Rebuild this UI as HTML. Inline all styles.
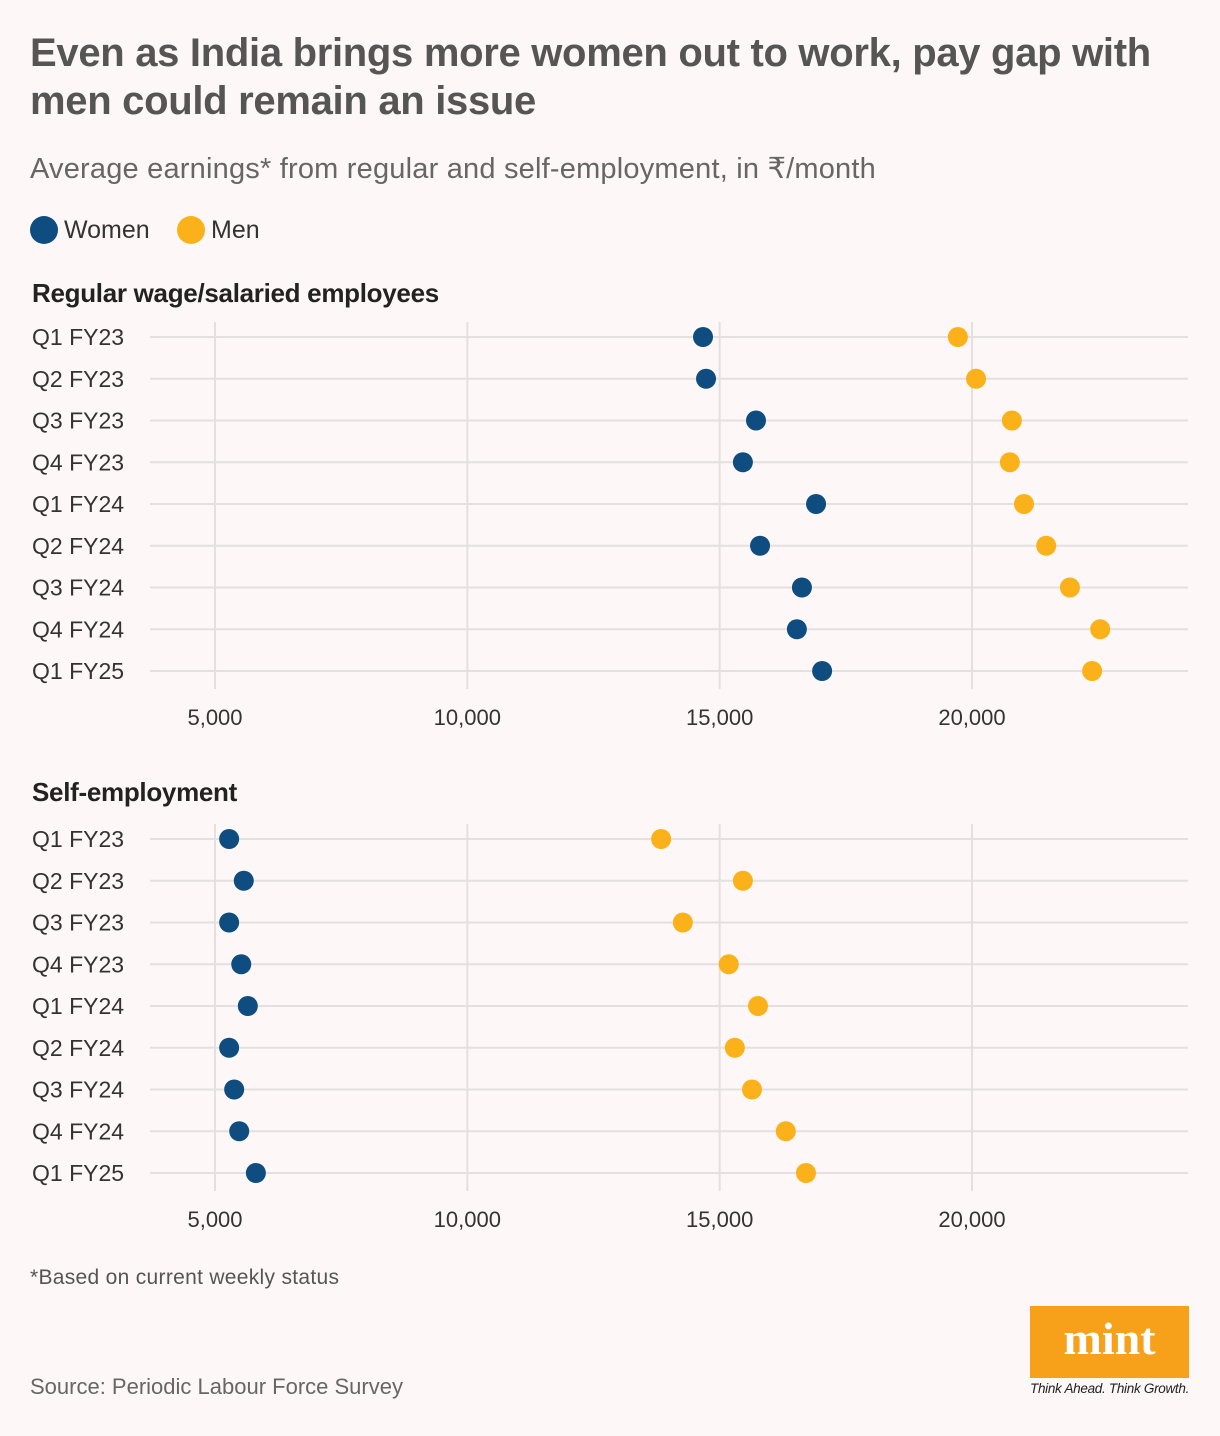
<!DOCTYPE html>
<html><head><meta charset="utf-8"><style>
body{margin:0;background:#fdf8f7;font-family:"Liberation Sans",sans-serif;}
#wrap{position:relative;width:1220px;height:1436px;overflow:hidden;background:#fdf8f7;}
.t{position:absolute;white-space:nowrap;}
</style></head><body>
<div id="wrap">
<div class="t" style="left:30px;top:29px;font-size:40px;font-weight:bold;color:#555;line-height:48px;letter-spacing:-0.3px">Even as India brings more women out to work, pay gap with<br>men could remain an issue</div>
<div class="t" style="left:30px;top:151px;font-size:29px;color:#666;letter-spacing:0.2px">Average earnings* from regular and self-employment, in ₹/month</div>
<div class="t" style="left:30px;top:216px;font-size:25px;color:#333"><span style="display:inline-block;width:28px;height:28px;border-radius:50%;background:#0f4c7f;vertical-align:-6px;margin-right:6px"></span>Women</div>
<div class="t" style="left:177px;top:216px;font-size:25px;color:#333"><span style="display:inline-block;width:28px;height:28px;border-radius:50%;background:#fbb119;vertical-align:-6px;margin-right:6px"></span>Men</div>
<div class="t" style="left:32px;top:278px;font-size:26px;font-weight:bold;color:#222;letter-spacing:-0.3px">Regular wage/salaried employees</div>
<div class="t" style="left:32px;top:777px;font-size:26px;font-weight:bold;color:#222;letter-spacing:-0.3px">Self-employment</div>
<svg id="chart" width="1220" height="1436" style="position:absolute;left:0;top:0"></svg>
<div class="t" style="left:30px;top:1266px;font-size:21px;color:#555;letter-spacing:0.3px">*Based on current weekly status</div>
<div class="t" style="left:30px;top:1374px;font-size:22px;color:#666">Source: Periodic Labour Force Survey</div>
<div style="position:absolute;left:1030px;top:1306px;width:159px;height:72px;background:#f7a11a;color:#fff;font-family:'Liberation Serif',serif;font-weight:bold;font-size:46px;text-align:center;line-height:66px">mint</div>
<div class="t" style="left:1030px;top:1381px;font-size:13.5px;font-style:italic;color:#222;letter-spacing:-0.3px">Think Ahead. Think Growth.</div>
</div>
<script>
const categories=["Q1 FY23","Q2 FY23","Q3 FY23","Q4 FY23","Q1 FY24","Q2 FY24","Q3 FY24","Q4 FY24","Q1 FY25"];
const regWomen=[14670,14730,15720,15460,16910,15800,16630,16530,17030];
const regMen=[19720,20080,20790,20750,21030,21470,21940,22540,22380];
const selfWomen=[5280,5570,5280,5520,5650,5280,5380,5480,5810];
const selfMen=[13840,15460,14270,15180,15760,15300,15640,16310,16710];
const ticks=[5000,10000,15000,20000];
const tickLabels=["5,000","10,000","15,000","20,000"];
const svg=document.getElementById('chart');
const NS='http://www.w3.org/2000/svg';
function x(v){return 215+(v-5000)*(972-215)/15000;}
function mk(t,a){const e=document.createElementNS(NS,t);for(const k in a)e.setAttribute(k,a[k]);svg.appendChild(e);return e;}
function panel(top,women,men,pname){
  const y=i=>top+i*41.75;
  ticks.forEach((t,i)=>{
    const l=mk('line',{x1:x(t),x2:x(t),y1:top-15,y2:y(8)+18,stroke:'#e3e0df','stroke-width':2});
    
    
    const tx=mk('text',{x:x(t),y:y(8)+54,'text-anchor':'middle','font-size':22,fill:'#333','font-family':'Liberation Sans, sans-serif'});
    tx.textContent=tickLabels[i];
    
    
  });
  categories.forEach((c,i)=>{
    const l=mk('line',{x1:150,x2:1188,y1:y(i),y2:y(i),stroke:'#e3e0df','stroke-width':2});
    
    
    const tx=mk('text',{x:32,y:y(i)+8,'font-size':23,fill:'#333','font-family':'Liberation Sans, sans-serif'});
    tx.textContent=c;
    
    
  });
  categories.forEach((c,i)=>{
    const a=mk('circle',{cx:x(women[i]),cy:y(i),r:10,fill:'#0f4c7f'});
    
    
    const b=mk('circle',{cx:x(men[i]),cy:y(i),r:10,fill:'#fbb119'});
    
    
  });
}
panel(337,regWomen,regMen,'regular');
panel(839,selfWomen,selfMen,'self');
</script>
</body></html>
